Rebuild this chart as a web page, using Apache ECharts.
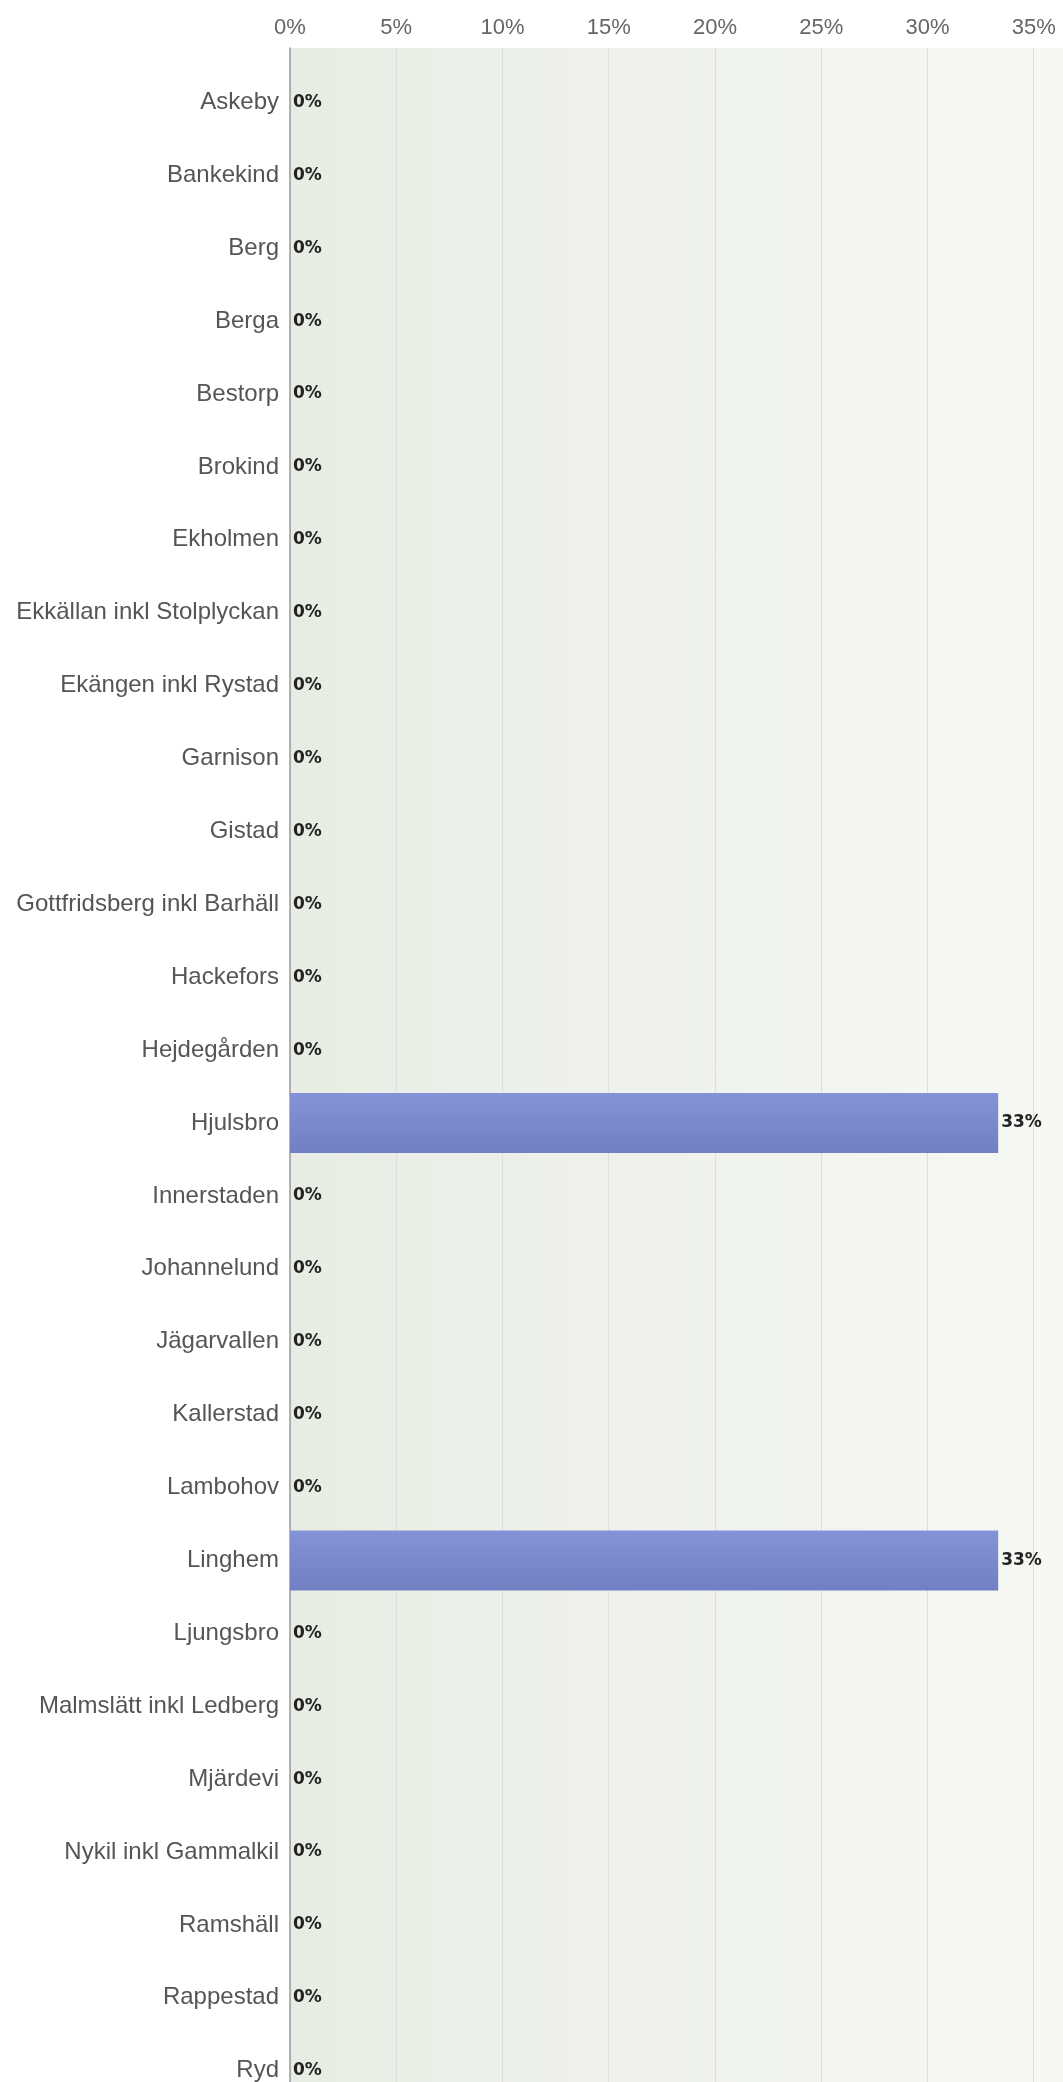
<!DOCTYPE html>
<html>
<head>
<meta charset="utf-8">
<script src="https://cdn.jsdelivr.net/npm/echarts@6/dist/echarts.min.js"></script>
<style>
html,body{margin:0;padding:0;background:#fff;}
#chart{width:1063px;height:2082px;}
</style>
</head>
<body>
<div id="chart"></div>
<script>
const categories = ["Askeby","Bankekind","Berg","Berga","Bestorp","Brokind","Ekholmen","Ekkällan inkl Stolplyckan","Ekängen inkl Rystad","Garnison","Gistad","Gottfridsberg inkl Barhäll","Hackefors","Hejdegården","Hjulsbro","Innerstaden","Johannelund","Jägarvallen","Kallerstad","Lambohov","Linghem","Ljungsbro","Malmslätt inkl Ledberg","Mjärdevi","Nykil inkl Gammalkil","Ramshäll","Rappestad","Ryd"];
const values = [0,0,0,0,0,0,0,0,0,0,0,0,0,0,33.33,0,0,0,0,0,33.33,0,0,0,0,0,0,0];
const tickInterval = 5;
const axisMax = 36.38;

const chart = echarts.init(document.getElementById('chart'), null, {renderer:'canvas'});
const LEFT = 290, BAND = 72.9;
chart.setOption({
  animation: false,
  backgroundColor: '#ffffff',
  grid: [
    {left: LEFT, right: 0, top: 48, height: 2120, show: true, borderWidth: 0,
     outerBoundsMode: 'none', containLabel: false,
     backgroundColor: {type:'linear', x:0, y:0, x2:1, y2:0,
       colorStops:[{offset:0,color:'#e8ede4'},{offset:1,color:'#f6f8f4'}]}},
    {left: LEFT, right: 0, top: 66, height: BAND * categories.length,
     outerBoundsMode: 'none', containLabel: false}
  ],
  xAxis: [
    {gridIndex: 0, type: 'value', position: 'top', min: 0, max: axisMax, interval: tickInterval,
     axisLine: {show: true, lineStyle: {color: '#9a9a9a', width: 2}},
     axisTick: {show: true, length: 5, lineStyle: {color: '#9a9a9a', width: 1}},
     axisLabel: {formatter: '{value}%', showMaxLabel: false, margin: 9,
       fontFamily: 'Liberation Sans, Arial, sans-serif', fontSize: 22, color: '#666'},
     splitLine: {show: true, lineStyle: {color: '#dcdfdb', width: 1}}},
    {gridIndex: 1, type: 'value', min: 0, max: axisMax, show: false}
  ],
  yAxis: [
    {gridIndex: 0, type: 'value', min: 0, max: 1, position: 'left',
     axisLine: {show: true, lineStyle: {color: '#9a9a9a', width: 1.5}},
     axisTick: {show: false}, axisLabel: {show: false}, splitLine: {show: false}},
    {gridIndex: 1, type: 'category', inverse: true, data: categories,
     axisLine: {show: false}, axisTick: {show: false}, splitLine: {show: false},
     axisLabel: {margin: 11, fontFamily: 'Liberation Sans, Arial, sans-serif', fontSize: 24, color: '#555'}}
  ],
  series: [{
    type: 'bar', xAxisIndex: 1, yAxisIndex: 1, data: values,
    barCategoryGap: '17.7%',
    itemStyle: {
      color: {type:'linear', x:0, y:0, x2:0, y2:1,
        colorStops:[{offset:0,color:'#8492d7'},{offset:1,color:'#7180c2'}]},
      borderWidth: 0
    },
    label: {show: true, position: 'right', distance: 3,
      formatter: p => Math.round(p.value) + '%',
      fontFamily: 'DejaVu Sans, sans-serif', fontWeight: 'bold', fontSize: 17, color: '#222'}
  }]
});
</script>
</body>
</html>
